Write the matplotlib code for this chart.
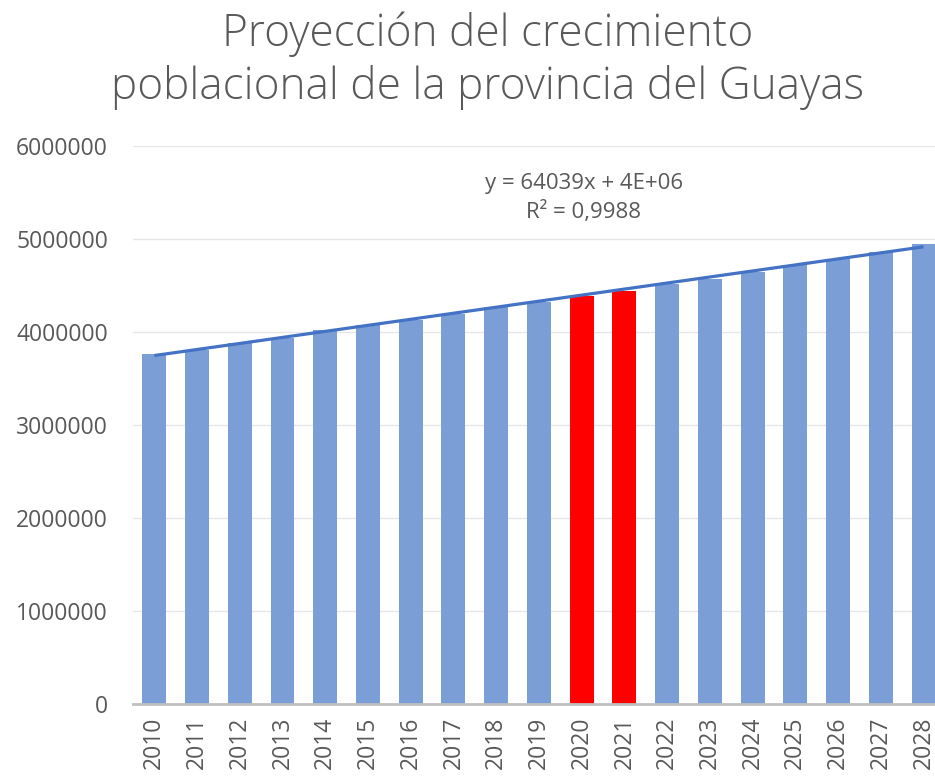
import matplotlib
matplotlib.use("Agg")
import matplotlib.pyplot as plt
import numpy as np

# population projection for Guayas
years = [2010, 2011, 2012, 2013, 2014, 2015, 2016, 2017, 2018, 2019,
         2020, 2021, 2022, 2023, 2024, 2025, 2026, 2027, 2028]
population = [3766000, 3810000, 3881000, 3940000, 4018000, 4076000, 4134000,
              4199000, 4264000, 4325000, 4386000, 4444000, 4516000, 4574000,
              4650000, 4719000, 4790000, 4863000, 4950000]
highlight = [2020, 2021]
yticks = [0, 1000000, 2000000, 3000000, 4000000, 5000000, 6000000]
title = "Proyección del crecimiento\npoblacional de la provincia del Guayas"
eq_text = "y = 64039x + 4E+06\nR² = 0,9988"

grey_text = "#595959"
bar_blue = "#7B9ED6"
line_blue = "#4472C4"

plt.rcParams["font.family"] = ["Open Sans", "DejaVu Sans"]

fig = plt.figure(figsize=(9.35, 7.78), dpi=100)
ax = fig.add_axes([0.1422, 0.0951, 0.8684, 0.7172])

pos = np.arange(len(years))
colors = ["#FF0000" if y in highlight else bar_blue for y in years]
ax.bar(pos, population, width=0.56, color=colors, zorder=2)

# linear trendline, as excel does it (x = 1..n)
xs = pos + 1
coef = np.polyfit(xs, population, 1)
ax.plot(pos, np.polyval(coef, xs), color=line_blue, lw=2.3, zorder=3,
        solid_capstyle="butt")

ax.set_xlim(-0.5, len(years) - 0.5)
ax.set_ylim(0, 6000000)
ax.set_yticks(yticks)
ax.set_yticklabels([str(v) for v in yticks])
ax.set_xticks(pos)
ax.set_xticklabels([str(y) for y in years], rotation=90)
ax.tick_params(axis="y", length=0, pad=18, labelsize=16.5, labelcolor=grey_text)
ax.tick_params(axis="x", length=0, pad=9, labelsize=16.5, labelcolor=grey_text)

ax.grid(axis="y", color="#E6E6E6", lw=1, zorder=0)
for s in ["top", "right", "left"]:
    ax.spines[s].set_visible(False)
ax.spines["bottom"].set_color("#BFBFBF")
ax.spines["bottom"].set_linewidth(2)
ax.spines["bottom"].set_zorder(4)

ax.text(10.05, 5440000, eq_text, ha="center", va="center", fontsize=16,
        color=grey_text, linespacing=1.45)

fig.text(0.521, 0.922, title, ha="center", va="center", fontsize=31.8,
         color=grey_text, fontweight="light", linespacing=1.24)

fig.savefig("out.png", dpi=100)
